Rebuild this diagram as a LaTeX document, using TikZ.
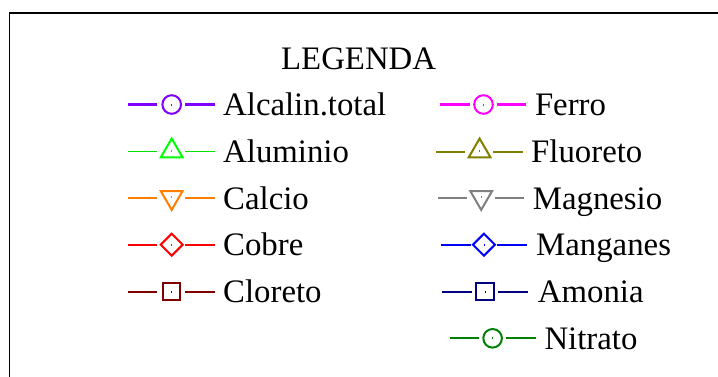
\documentclass[tikz,border=0pt]{standalone}
\usepackage{fontspec}
\setmainfont{Liberation Serif}
\usetikzlibrary{shapes.geometric}

\definecolor{alcalin}{RGB}{128,0,255}
\definecolor{aluminio}{RGB}{0,255,0}
\definecolor{alulinha}{RGB}{0,225,0}
\definecolor{calcio}{RGB}{255,128,0}
\definecolor{cobre}{RGB}{255,0,0}
\definecolor{cloreto}{RGB}{128,0,0}
\definecolor{ferro}{RGB}{255,0,255}
\definecolor{fluoreto}{RGB}{128,128,0}
\definecolor{magnesio}{RGB}{128,128,128}
\definecolor{manganes}{RGB}{0,0,255}
\definecolor{amonia}{RGB}{0,0,128}
\definecolor{nitrato}{RGB}{0,128,0}

\tikzset{
  mk/.style={draw=#1, line width=2pt, inner sep=0pt, outer sep=0pt},
  ln/.style={draw=#1, line width=2.1pt},
  tick/.style={draw=#1, line width=0.7pt},
  circ/.style={circle, minimum size=18.6pt},
  tri/.style={regular polygon, regular polygon sides=3, minimum size=25pt},
  trid/.style={regular polygon, regular polygon sides=3, shape border rotate=180, minimum size=25pt},
  diam/.style={diamond, minimum width=22pt, minimum height=22pt},
  quad/.style={rectangle, minimum size=17.5pt},
  txt/.style={anchor=base west, inner sep=0pt, font=\fontsize{32.8}{36}\selectfont}
}

\begin{document}
\begin{tikzpicture}[x=1pt,y=-1pt]
\clip (0,0) rectangle (718,376);
\draw [line width=1.6pt] (9.5,13) rectangle (760,420);

\node [txt] (titulo) at (281,69) {LEGENDA};

% coluna esquerda
\node [mk=alcalin, circ] (m1) at (171.7,104.5) {};
\draw [ln=alcalin, line width=2.4pt] (128,104.5) -- (157,104.5) (185,104.5) -- (215,104.5);
\draw [tick=alcalin] (m1.center) ++(0,-1) -- ++(0,2);
\node [txt] (t1) at (223,115.7) {Alcalin.total};

\node [mk=aluminio, tri] (m2) at (171.7,151) {};
\draw [ln=alulinha, line width=1.6pt] (128,151.5) -- (157,151.5) (185,151.5) -- (215,151.5);
\draw [tick=aluminio] (m2.center) ++(0,-1) -- ++(0,2);
\node [txt] (t2) at (223,162.9) {Aluminio};

\node [mk=calcio, trid] (m3) at (171.7,197.4) {};
\draw [ln=calcio] (128,198.3) -- (157,198.3) (185,198.3) -- (215,198.3);
\draw [tick=calcio] (m3.center) ++(0,-1) -- ++(0,2);
\node [txt] (t3) at (223,209.5) {Calcio};

\node [mk=cobre, diam] (m4) at (171.7,244.7) {};
\draw [ln=cobre] (128,244.7) -- (157,244.7) (185,244.7) -- (215,244.7);
\draw [tick=cobre] (m4.center) ++(0,-1) -- ++(0,2);
\node [txt] (t4) at (223,255.9) {Cobre};

\node [mk=cloreto, quad] (m5) at (171.7,291.5) {};
\draw [ln=cloreto] (128,291.7) -- (157,291.7) (185,291.7) -- (215,291.7);
\draw [tick=cloreto] (m5.center) ++(0,-1) -- ++(0,2);
\node [txt] (t5) at (223,302.9) {Cloreto};

% coluna direita
\node [mk=ferro, circ] (m6) at (483.5,104.5) {};
\draw [ln=ferro] (440.3,104.5) -- (469.5,104.5) (497,104.5) -- (526.3,104.5);
\draw [tick=ferro] (m6.center) ++(0,-1) -- ++(0,2);
\node [txt] (t6) at (534.8,115.7) {Ferro};

\node [mk=fluoreto, tri] (m7) at (479.6,151) {};
\draw [ln=fluoreto, line width=2.4pt] (436.3,151.7) -- (465.3,151.7) (493,151.7) -- (523,151.7);
\draw [tick=fluoreto] (m7.center) ++(0,-1) -- ++(0,2);
\node [txt] (t7) at (531,162.9) {Fluoreto};

\node [mk=magnesio, trid] (m8) at (481.2,197.4) {};
\draw [ln=magnesio] (438,198.3) -- (466.7,198.3) (494.7,198.3) -- (524,198.3);
\draw [tick=magnesio] (m8.center) ++(0,-1) -- ++(0,2);
\node [txt] (t8) at (532.7,209.5) {Magnesio};

\node [mk=manganes, diam] (m9) at (483.9,244.7) {};
\draw [ln=manganes] (440.7,244.7) -- (470.7,244.7) (497.3,244.7) -- (527.3,244.7);
\draw [tick=manganes] (m9.center) ++(0,-1) -- ++(0,2);
\node [txt] (t9) at (536,255.9) {Manganes};

\node [mk=amonia, quad] (m10) at (485,291.5) {};
\draw [ln=amonia] (442,291.7) -- (471.7,291.7) (498.3,291.7) -- (528.3,291.7);
\draw [tick=amonia] (m10.center) ++(0,-1) -- ++(0,2);
\node [txt] (t10) at (537.7,302.9) {Amonia};

\node [mk=nitrato, circ] (m11) at (492.6,338.3) {};
\draw [ln=nitrato] (449.7,338.3) -- (478.7,338.3) (506.3,338.3) -- (536.3,338.3);
\draw [tick=nitrato] (m11.center) ++(0,-1) -- ++(0,2);
\node [txt] (t11) at (544.3,349.5) {Nitrato};
\end{tikzpicture}
\end{document}
